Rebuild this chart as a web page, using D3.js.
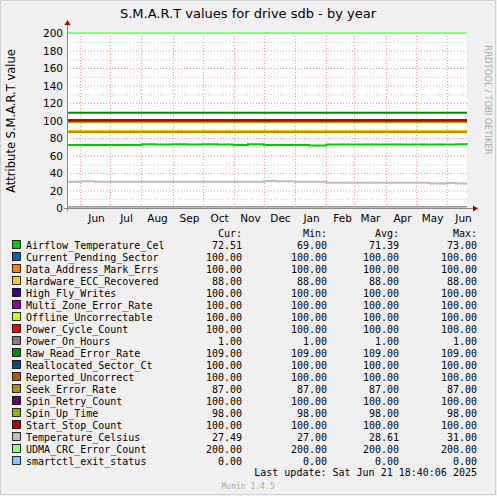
<!DOCTYPE html>
<html><head><meta charset="utf-8">
<script src="https://cdn.jsdelivr.net/npm/d3@7"></script>
<style>body{margin:0;background:#f0f0f0}svg{display:block}</style>
</head><body><svg width="497" height="496"></svg>
<script>
/* ---------- data ---------- */
var names = ['Airflow_Temperature_Cel','Current_Pending_Sector','Data_Address_Mark_Errs','Hardware_ECC_Recovered',
  'High_Fly_Writes','Multi_Zone_Error_Rate','Offline_Uncorrectable','Power_Cycle_Count','Power_On_Hours',
  'Raw_Read_Error_Rate','Reallocated_Sector_Ct','Reported_Uncorrect','Seek_Error_Rate','Spin_Retry_Count',
  'Spin_Up_Time','Start_Stop_Count','Temperature_Celsius','UDMA_CRC_Error_Count','smartctl_exit_status'];
var colors = ['#00CC00','#0066B3','#FF8000','#FFCC00','#330099','#990099','#CCFF00','#FF0000','#808080',
  '#008F00','#00487D','#B35A00','#B38F00','#6B006B','#8FB300','#B30000','#BEBEBE','#80FF80','#80C9FF'];
var cur = ['72.51','100.00','100.00','88.00','100.00','100.00','100.00','100.00','1.00','109.00','100.00','100.00','87.00','100.00','98.00','100.00','27.49','200.00','0.00'];
var mins = ['69.00','100.00','100.00','88.00','100.00','100.00','100.00','100.00','1.00','109.00','100.00','100.00','87.00','100.00','98.00','100.00','27.00','200.00','0.00'];
var avgs = ['71.39','100.00','100.00','88.00','100.00','100.00','100.00','100.00','1.00','109.00','100.00','100.00','87.00','100.00','98.00','100.00','28.61','200.00','0.00'];
var maxs = ['73.00','100.00','100.00','88.00','100.00','100.00','100.00','100.00','1.00','109.00','100.00','100.00','87.00','100.00','98.00','100.00','31.00','200.00','0.00'];
// sample dates (roughly every two weeks)
var dates = ['2024-05-19','2024-06-01','2024-06-15','2024-07-01','2024-07-15','2024-08-01','2024-08-15','2024-09-01',
  '2024-09-15','2024-10-01','2024-10-15','2024-11-01','2024-11-15','2024-12-01','2024-12-15','2025-01-01',
  '2025-01-15','2025-02-01','2025-02-15','2025-03-01','2025-03-15','2025-04-01','2025-04-15','2025-05-01',
  '2025-05-15','2025-06-01','2025-06-10','2025-06-21'];
var airflow = [72,72,72,72,72,73,72.5,73,72.5,73,72.5,72,73,72,72,72,71.5,72.5,72.5,72.5,72.5,72.5,72.5,72.5,72.5,72.5,73,72.5];
var temp = [30,30.5,30,30,30,30,30,30,30,30,30,30,30,31,30.5,30,30,29,29,29,29,29,29,29,28,28.5,28,28];
var flat = [null,100,100,88,100,100,100,100,1,109,100,100,87,100,98,100,null,200,0];
var ticks = [0,20,40,60,80,100,120,140,160,180,200];

/* ---------- chart ---------- */
var svg = d3.select('svg');
var parse = d3.timeParse('%Y-%m-%d');
var X0 = 67, X1 = 467, Y0 = 208, Y1 = 33;
var x = d3.scaleTime().domain([parse('2024-05-19'), parse('2025-06-21')]).range([X0, X1]);
var y = d3.scaleLinear().domain([0, 200]).range([Y0, Y1]);

svg.append('rect').attr('x',0.5).attr('y',0.5).attr('width',495).attr('height',494)
  .attr('fill','#f0f0f0').attr('stroke','#cfcfcf');
svg.append('rect').attr('x',X0).attr('y',Y1).attr('width',X1-X0).attr('height',Y0-Y1).attr('fill','#fff');

// minor y grid
d3.range(10,200,10).forEach(function(v){
  if (v % 20 === 0) return;
  svg.append('line').attr('x1',X0).attr('x2',X1).attr('y1',y(v)+.5).attr('y2',y(v)+.5)
    .attr('stroke','#ccc').attr('stroke-dasharray','1,2');
});
ticks.forEach(function(v){
  svg.append('line').attr('x1',X0).attr('x2',X1).attr('y1',y(v)+.5).attr('y2',y(v)+.5)
    .attr('stroke','#f4a0a0').attr('stroke-dasharray','1,2');
  svg.append('text').attr('x',X0-4).attr('y',y(v)+4).attr('text-anchor','end')
    .attr('font-family','DejaVu Sans').attr('font-size',10.5).text(v);
});
var months = d3.timeMonth.range(parse('2024-06-01'), parse('2025-06-22'));
months.forEach(function(m){
  var px = Math.round(x(m)) + .5;
  svg.append('line').attr('x1',px).attr('x2',px).attr('y1',Y1).attr('y2',Y0)
    .attr('stroke','#f4a0a0').attr('stroke-dasharray','1,2');
  svg.append('text').attr('x',px+16).attr('y',Y0+14).attr('text-anchor','middle')
    .attr('font-family','DejaVu Sans').attr('font-size',10.5).text(d3.timeFormat('%b')(m));
});

// series
var line = d3.line().x(function(d){return x(d[0]);}).y(function(d){return y(d[1]);}).curve(d3.curveStepAfter);
names.forEach(function(n, i){
  var vals = i === 0 ? airflow : i === 16 ? temp : dates.map(function(){return flat[i];});
  var pts = dates.map(function(d, j){return [parse(d), vals[j]];});
  svg.append('path').datum(pts).attr('d', line).attr('fill','none')
    .attr('stroke', colors[i]).attr('stroke-width', 2);
});

// axes
svg.append('line').attr('x1',X0-3).attr('x2',X1+6).attr('y1',Y0+.5).attr('y2',Y0+.5).attr('stroke','#888');
svg.append('line').attr('x1',X0+.5).attr('x2',X0+.5).attr('y1',Y0+3).attr('y2',Y1-8).attr('stroke','#888');
svg.append('path').attr('d','M'+(X1+6)+','+(Y0-2.5)+'l5,3l-5,3z').attr('fill','#a00');
svg.append('path').attr('d','M'+(X0-2.5)+','+(Y1-8)+'l3,-5l3,5z').attr('fill','#a00');

// titles
svg.append('text').attr('x',248).attr('y',18).attr('text-anchor','middle')
  .attr('font-family','DejaVu Sans').attr('font-size',13).text('S.M.A.R.T values for drive sdb - by year');
svg.append('text').attr('transform','translate(15,121) rotate(-90)').attr('text-anchor','middle')
  .attr('font-family','DejaVu Sans').attr('font-size',11.5).text('Attribute S.M.A.R.T value');
svg.append('text').attr('transform','translate(485,100) rotate(90)').attr('text-anchor','middle')
  .attr('font-family','DejaVu Sans').attr('font-size',8.5).attr('fill','#aaa').text('RRDTOOL / TOBI OETIKER');

// legend
var mono = 'DejaVu Sans Mono';
var heads = [['Cur:',242],['Min:',327],['Avg:',399],['Max:',477]];
heads.forEach(function(h){
  svg.append('text').attr('x',h[1]).attr('y',237).attr('text-anchor','end')
    .attr('font-family',mono).attr('font-size',10).text(h[0]);
});
names.forEach(function(n, i){
  var ly = 249 + i * 12;
  svg.append('rect').attr('x',12.5).attr('y',ly-8.5).attr('width',8).attr('height',8)
    .attr('fill',colors[i]).attr('stroke','#000').attr('stroke-width',.8);
  svg.append('text').attr('x',26).attr('y',ly).attr('font-family',mono).attr('font-size',10).text(n);
  [cur[i],mins[i],avgs[i],maxs[i]].forEach(function(v, k){
    svg.append('text').attr('x',heads[k][1]).attr('y',ly).attr('text-anchor','end')
      .attr('font-family',mono).attr('font-size',10).text(v);
  });
});
svg.append('text').attr('x',477).attr('y',476).attr('text-anchor','end').attr('font-family',mono)
  .attr('font-size',10).text('Last update:  Sat Jun 21 18:40:06 2025');
svg.append('text').attr('x',248).attr('y',489).attr('text-anchor','middle').attr('font-family',mono)
  .attr('font-size',8).attr('fill','#aaa').text('Munin 1.4.5');
</script></body></html>
